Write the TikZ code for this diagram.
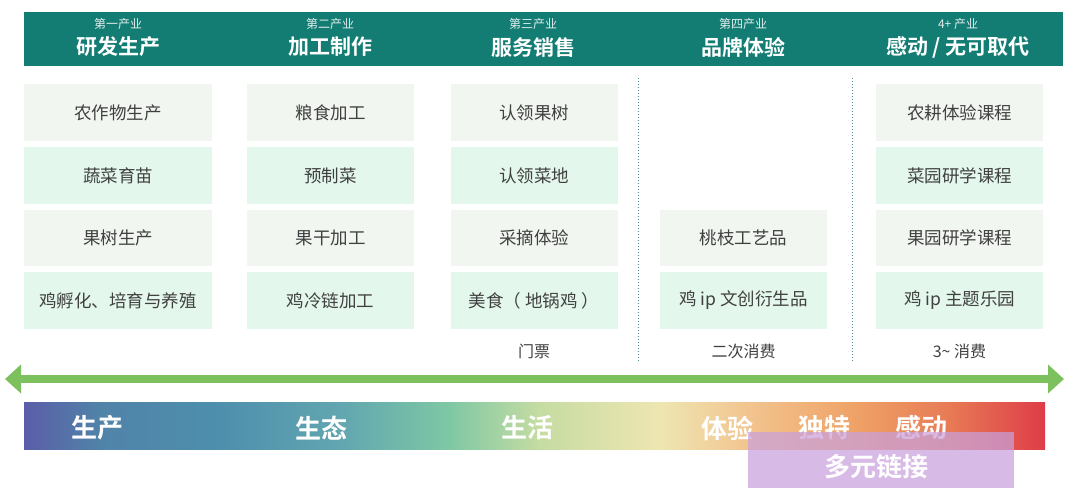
\documentclass[tikz,border=0pt]{standalone}
\usepackage{fontspec}
\setmainfont{Noto Sans CJK SC}
\newfontfamily\cjkb{Noto Sans CJK SC}[BoldFont={Noto Sans CJK SC Bold}]
\usetikzlibrary{arrows.meta}
\definecolor{headteal}{HTML}{137C73}
\definecolor{rowA}{HTML}{F2F6F1}
\definecolor{rowB}{HTML}{E3F7EC}
\definecolor{txt}{HTML}{404040}
\definecolor{arrgreen}{HTML}{7DC05E}
\definecolor{dotc}{HTML}{4F8A98}
\definecolor{purp}{HTML}{C9A0DC}
\definecolor{g1}{HTML}{5C5DA8}
\definecolor{g2}{HTML}{5083A8}
\definecolor{g3}{HTML}{4E8FAD}
\definecolor{g4}{HTML}{62A6B0}
\definecolor{g5}{HTML}{7FC8A4}
\definecolor{g6}{HTML}{C6DCA2}
\definecolor{g7}{HTML}{EEE6B2}
\definecolor{g8}{HTML}{F2C792}
\definecolor{g9}{HTML}{EFA468}
\definecolor{g10}{HTML}{E77A55}
\definecolor{g11}{HTML}{DE3C48}
\tikzset{
  cell/.style={minimum width=#1, minimum height=57pt, inner sep=0pt, font=\fontsize{17.5}{19}\selectfont, text=txt},
  subhead/.style={font=\fontsize{12}{13}\selectfont, text=white!88!headteal},
  mainhead/.style={font=\cjkb\bfseries\fontsize{21}{23}\selectfont, text=white},
  foot/.style={font=\fontsize{16}{17}\selectfont, text=txt},
  barlab/.style={font=\cjkb\bfseries\fontsize{26}{28}\selectfont, text=white},
  divider/.style={dotc, dotted, line width=1pt}
}
\begin{document}
\begin{tikzpicture}[x=1pt,y=-1pt]
\useasboundingbox (0,0) rectangle (1080,498);
% header band
\fill[headteal] (24,12) rectangle (1063,66);
\foreach \cx/\s/\t [count=\i] in {118/{第一产业}/{研发生产}, 330/{第二产业}/{加工制作}, 533/{第三产业}/{服务销售}, 743/{第四产业}/{品牌体验}, 958/{4+ 产业}/{感动 / 无可取代}}{
  \node[subhead] (sub\i) at (\cx,24) {\s};
  \node[mainhead] (head\i) at (\cx,47) {\t};
}
% rows
\def\rA{112.5}\def\rB{175.5}\def\rC{238}\def\rD{300.5}
% column 1
\node[cell=188pt, fill=rowA] (c11) at (118,\rA) {农作物生产};
\node[cell=188pt, fill=rowB] (c12) at (118,\rB) {蔬菜育苗};
\node[cell=188pt, fill=rowA, minimum height=56pt] (c13) at (118,\rC) {果树生产};
\node[cell=188pt, fill=rowB] (c14) at (118,\rD) {鸡孵化、培育与养殖};
% column 2
\node[cell=167pt, fill=rowA] (c21) at (330.5,\rA) {粮食加工};
\node[cell=167pt, fill=rowB] (c22) at (330.5,\rB) {预制菜};
\node[cell=167pt, fill=rowA, minimum height=56pt] (c23) at (330.5,\rC) {果干加工};
\node[cell=167pt, fill=rowB] (c24) at (330.5,\rD) {鸡冷链加工};
% column 3
\node[cell=167pt, fill=rowA] (c31) at (534,\rA) {认领果树};
\node[cell=167pt, fill=rowB] (c32) at (534,\rB) {认领菜地};
\node[cell=167pt, fill=rowA, minimum height=56pt] (c33) at (534,\rC) {采摘体验};
\node[cell=167pt, fill=rowB] (c34) at (534,\rD) {美食（ 地锅鸡 ）};
% column 4
\node[cell=167pt, fill=rowA, minimum height=56pt] (c43) at (743.5,\rC) {桃枝工艺品};
\node[cell=167pt, fill=rowB] (c44) at (743.5,\rD) {鸡 ip 文创衍生品};
% column 5
\node[cell=167pt, fill=rowA] (c51) at (959.5,\rA) {农耕体验课程};
\node[cell=167pt, fill=rowB] (c52) at (959.5,\rB) {菜园研学课程};
\node[cell=167pt, fill=rowA, minimum height=56pt] (c53) at (959.5,\rC) {果园研学课程};
\node[cell=167pt, fill=rowB] (c54) at (959.5,\rD) {鸡 ip 主题乐园};
% footers
\node[foot] (f3) at (534,351) {门票};
\node[foot] (f4) at (743.5,351) {二次消费};
\node[foot] (f5) at (959.5,351) {3\textasciitilde{} 消费};
% dividers
\coordinate (d1t) at (638,78); \coordinate (d1b) at (638,362);
\coordinate (d2t) at (852,78); \coordinate (d2b) at (852,362);
\draw[divider] (d1t) -- (d1b);
\draw[divider] (d2t) -- (d2b);
% arrow
\coordinate (al) at (5,379); \coordinate (ar) at (1064,379);
\draw[arrgreen, line width=8pt, {Triangle[width=28pt,length=16pt]}-{Triangle[width=28pt,length=16pt]}] (al) -- (ar);
% gradient bar
\shade[left color=g1, right color=g2] (24,402) rectangle (100.5,449);
\shade[left color=g2, right color=g3] (100,402) rectangle (220.5,449);
\shade[left color=g3, right color=g4] (220,402) rectangle (340.5,449);
\shade[left color=g4, right color=g5] (340,402) rectangle (450.5,449);
\shade[left color=g5, right color=g6] (450,402) rectangle (540.5,449);
\shade[left color=g6, right color=g7] (540,402) rectangle (660.5,449);
\shade[left color=g7, right color=g8] (660,402) rectangle (740.5,449);
\shade[left color=g8, right color=g9] (740,402) rectangle (850.5,449);
\shade[left color=g9, right color=g10] (850,402) rectangle (950.5,449);
\shade[left color=g10, right color=g11] (950,402) rectangle (1045,449);
\node[barlab] (b1) at (97,428) {生产};
\node[barlab] (b2) at (321,428) {生态};
\node[barlab] (b3) at (527,428) {生活};
\node[barlab] (b4) at (727,428) {体验};
\node[barlab] (b5) at (824,428) {独特};
\node[barlab] (b6) at (921,428) {感动};
% purple overlay
\fill[purp, fill opacity=0.72] (748,432) rectangle (1014,488);
\node[barlab] (m) at (876,467) {多元链接};
\end{tikzpicture}
\end{document}
